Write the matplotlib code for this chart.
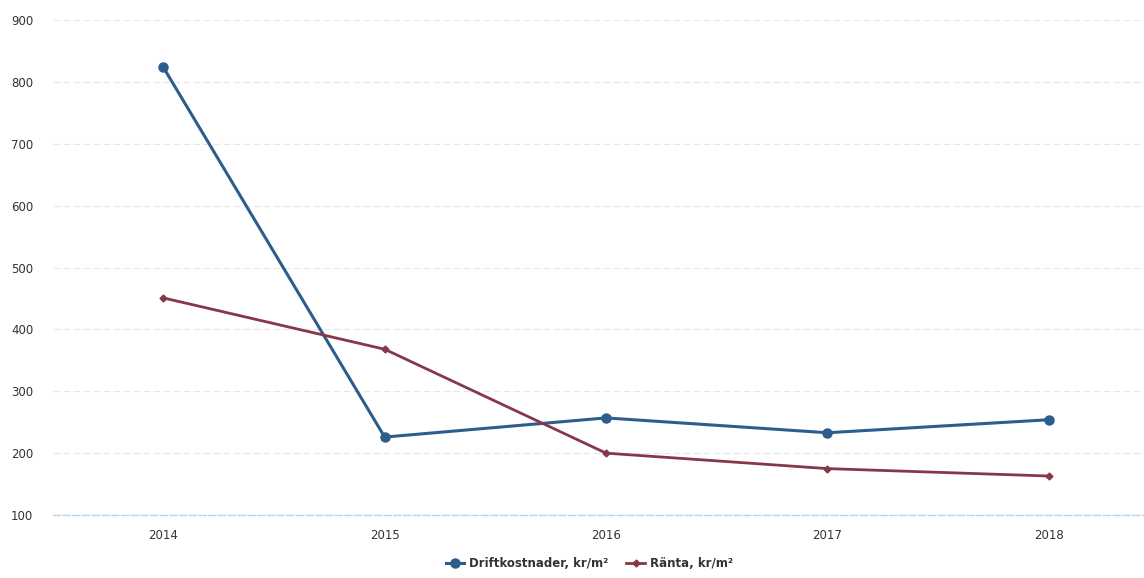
import numpy as np
import matplotlib.pyplot as plt

years = ['2014', '2015', '2016', '2017', '2018']
drift = [824, 226, 257, 233, 254]
ranta = [451, 368, 200, 175, 163]
yticks = [100, 200, 300, 400, 500, 600, 700, 800, 900]

plt.rcParams['font.family'] = ['DejaVu Sans']

fig = plt.figure(figsize=(11.44, 5.78), dpi=100)
ax = fig.add_axes([0.046, 0.109, 0.954, 0.856])

x = np.arange(len(years))
ax.plot(x, drift, color='#2c5d8c', lw=2.2, marker='o', ms=6.5,
        label='Driftkostnader, kr/m²', zorder=3)
ax.plot(x, ranta, color='#873848', lw=2.0, marker='D', ms=3.5,
        label='Ränta, kr/m²', zorder=3)

ax.set_xlim(-0.5, 4.43)
ax.set_ylim(100, 900)
ax.set_xticks(x)
ax.set_xticklabels(years, fontsize=8.5, color='#333333')
ax.set_yticks(yticks)
ax.set_yticklabels([str(v) for v in yticks], fontsize=8.5, color='#333333')
ax.tick_params(axis='x', length=0, pad=10)
ax.tick_params(axis='y', length=0, pad=14)

ax.grid(axis='y', color='#e6e6ee', lw=0.8, ls=(0, (6, 3)))
for s in ['top', 'right', 'left']:
    ax.spines[s].set_visible(False)
ax.spines['bottom'].set_color('#b9d2ee')
ax.spines['bottom'].set_linestyle((0, (5, 2)))
ax.spines['bottom'].set_linewidth(1.0)

leg = fig.legend(loc='lower center', bbox_to_anchor=(0.515, -0.005), ncol=2,
                 frameon=False, fontsize=8.5, handlelength=1.6,
                 columnspacing=1.5, handletextpad=0.4)
for t in leg.get_texts():
    t.set_fontweight('bold')
    t.set_color('#333333')

fig.savefig('out.png', dpi=100)
